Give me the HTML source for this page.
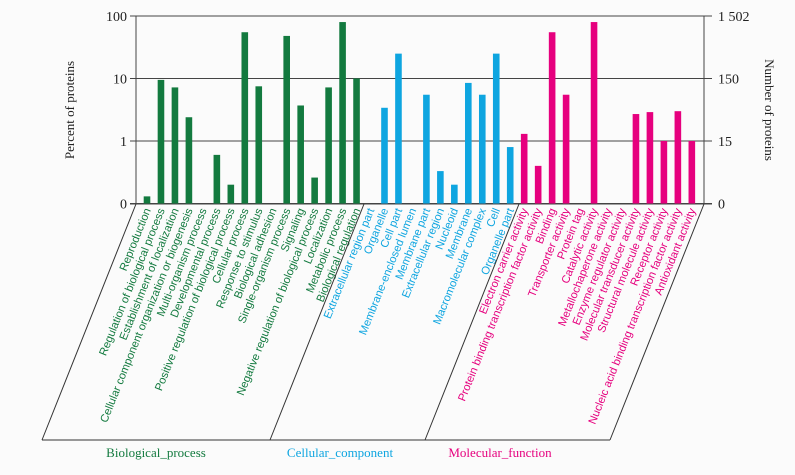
<!DOCTYPE html>
<html><head><meta charset="utf-8"><style>
body{margin:0;background:#fff}
svg{display:block}
</style></head><body>
<svg id="chart" width="795" height="475" viewBox="0 0 795 475" xmlns="http://www.w3.org/2000/svg" font-family="Liberation Serif, serif">
<rect width="795" height="475" fill="#fbfbfb"/>
<g id="grid"></g>
<g id="bars"></g>
<g id="labels"></g>
<g id="frame"></g>
</svg>
<script>
const categories = ["Reproduction","Regulation of biological process","Establishment of localization","Cellular component organization or biogenesis","Multi-organism process","Developmental process","Positive regulation of biological process","Cellular process","Response to stimulus","Biological adhesion","Single-organism process","Signaling","Negative regulation of biological process","Localization","Metabolic process","Biological regulation",
"Extracellular region part","Organelle","Cell part","Membrane-enclosed lumen","Membrane part","Extracellular region","Nucleoid","Membrane","Macromolecular complex","Cell","Organelle part",
"Electron carrier activity","Protein binding transcription factor activity","Binding","Transporter activity","Protein tag","Catalytic activity","Metallochaperone activity","Enzyme regulator activity","Molecular transducer activity","Structural molecule activity","Receptor activity","Nucleic acid binding transcription factor activity","Antioxidant activity"];
const groups = ["bp","bp","bp","bp","bp","bp","bp","bp","bp","bp","bp","bp","bp","bp","bp","bp","cc","cc","cc","cc","cc","cc","cc","cc","cc","cc","cc","mf","mf","mf","mf","mf","mf","mf","mf","mf","mf","mf","mf","mf"];
const percentValues = [0.13,9.5,7.2,2.4,0,0.6,0.2,55,7.5,0,48,3.7,0.26,7.2,80,10,
0,3.4,25,0,5.5,0.33,0.2,8.5,5.5,25,0.8,
1.3,0.4,55,5.5,0,80,0,0,2.7,2.9,1.0,3.0,1.0];
const leftTicks = [0.1,1,10,100];
const leftTickLabels = ["0","1","10","100"];
const rightTickLabels = ["0","15","150","1 502"];
const groupNames = ["Biological_process","Cellular_component","Molecular_function"];

const NS="http://www.w3.org/2000/svg";
const SERIF="'Liberation Serif', serif";
const colors={bp:"#137a3f",cc:"#0ea5e0",mf:"#e6007e"};
const X0=136,X1=704,Y0=204,slot=13.97,first=147;
function y(v){return 141-62.5*Math.log10(Math.max(v,0.1));}
function x(i){return first+i*slot;}
function mk(tag,attrs,parent){const e=document.createElementNS(NS,tag);for(const k in attrs)e.setAttribute(k,attrs[k]);parent.appendChild(e);return e;}
const grid=document.getElementById('grid'),bars=document.getElementById('bars'),labels=document.getElementById('labels'),frame=document.getElementById('frame');
leftTicks.forEach((t,i)=>{
  const yy=y(t);
  const l=mk('line',{x1:X0-6,x2:X1+8,y1:yy,y2:yy,stroke:'#444','stroke-width':1},grid);
  
  
  const tl=mk('text',{x:X0-9,y:yy+5,'text-anchor':'end','font-size':14,fill:'#222','font-family':SERIF},grid);tl.textContent=leftTickLabels[i];
  
  
  const tr=mk('text',{x:X1+14,y:yy+5,'font-size':14,fill:'#222','font-family':SERIF},grid);tr.textContent=rightTickLabels[i];
  
  
});
categories.forEach((c,i)=>{
  const v=percentValues[i];
  if(v>0){
    const yy=y(v);
    const r=mk('rect',{x:x(i)-3.3,y:yy,width:6.6,height:Y0-yy,fill:colors[groups[i]]},bars);
    
    
  }
  const t=mk('text',{x:0,y:0,'text-anchor':'end','font-size':11.2,fill:colors[groups[i]],'font-family':"'Liberation Sans', sans-serif",transform:`translate(${x(i)+4},${Y0+6}) rotate(-68)`},labels);
  t.textContent=c;
  
  
});
mk('line',{x1:X0,x2:X0,y1:16,y2:Y0,stroke:'#444'},frame);
mk('line',{x1:X1,x2:X1,y1:16,y2:Y0,stroke:'#444'},frame);
mk('line',{x1:X0-6,x2:X1+8,y1:Y0,y2:Y0,stroke:'#444'},frame);
const dx=-94,dy=236;
[X0,364,519,X1].forEach(px=>{mk('line',{x1:px,y1:Y0,x2:px+dx,y2:Y0+dy,stroke:'#333'},frame);});
mk('line',{x1:X0+dx,x2:X1+dx,y1:Y0+dy,y2:Y0+dy,stroke:'#333'},frame);
const gx=[156,340,500],gc=[colors.bp,colors.cc,colors.mf];
groupNames.forEach((g,i)=>{const t=mk('text',{x:gx[i],y:457,'text-anchor':'middle','font-size':13,fill:gc[i],'font-family':SERIF},frame);t.textContent=g;
  
  });
const ly=mk('text',{transform:'translate(74,110) rotate(-90)','text-anchor':'middle','font-size':13,fill:'#222','font-family':SERIF},frame);ly.textContent='Percent of proteins';


const ry=mk('text',{transform:'translate(765,110) rotate(90)','text-anchor':'middle','font-size':13,fill:'#222','font-family':SERIF},frame);ry.textContent='Number of proteins';


</script>
</body></html>
